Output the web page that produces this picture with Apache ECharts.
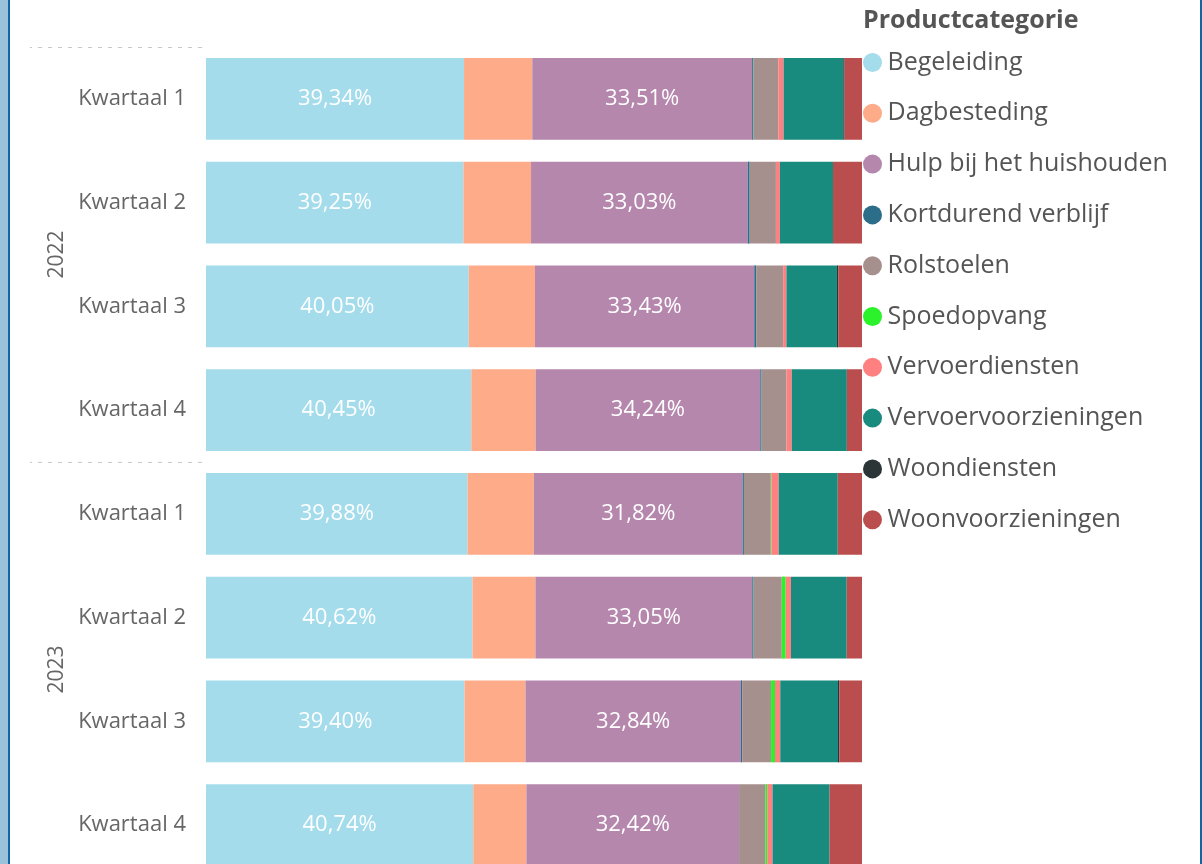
<!DOCTYPE html>
<html>
<head>
<meta charset="utf-8">
<script src="https://cdn.jsdelivr.net/npm/echarts@6/dist/echarts.min.js"></script>
<style>
    html, body { margin: 0; padding: 0; background: #fff; }
    #wrap { position: relative; width: 1202px; height: 864px; overflow: hidden; }
    #main { width: 1202px; height: 864px; }
    .bandL { position: absolute; left: 0; top: 0; width: 8px; height: 864px; background: #9ac2da; }
    .lineL { position: absolute; left: 8px; top: 0; width: 2px; height: 864px; background: #1565a5; }
    .lineR { position: absolute; left: 1200px; top: 0; width: 2px; height: 864px; background: #1565a5; }
</style>
</head>
<body>
<div id="wrap">
    <div id="main"></div>
    <div class="bandL"></div>
    <div class="lineL"></div>
    <div class="lineR"></div>
</div>
<script>
    // quarters (top to bottom) and years
    var quarters = ['Kwartaal 1', 'Kwartaal 2', 'Kwartaal 3', 'Kwartaal 4',
                    'Kwartaal 1', 'Kwartaal 2', 'Kwartaal 3', 'Kwartaal 4'];
    var years = ['2022', '2023'];

    var categories = ['Begeleiding', 'Dagbesteding', 'Hulp bij het huishouden', 'Kortdurend verblijf',
                      'Rolstoelen', 'Spoedopvang', 'Vervoerdiensten', 'Vervoervoorzieningen',
                      'Woondiensten', 'Woonvoorzieningen'];
    var colors = ['#a4dcec', '#fdab89', '#b587ad', '#2c6e8a', '#a6908d',
                  '#2bf22b', '#ff8080', '#188a7e', '#2b3538', '#ba4d4d'];

    // share per quarter, in %
    var begeleiding   = [39.34, 39.25, 40.05, 40.45, 39.88, 40.62, 39.40, 40.74];
    var dagbesteding  = [10.4, 10.3, 10.1, 9.8, 10.1, 9.6, 9.3, 8.1];
    var hulp          = [33.51, 33.03, 33.43, 34.24, 31.82, 33.05, 32.84, 32.42];
    var kortdurend    = [0.2, 0.3, 0.3, 0.2, 0.2, 0.2, 0.2, 0.0];
    var rolstoelen    = [3.8, 4.0, 4.1, 3.8, 4.1, 4.3, 4.4, 4.0];
    var spoedopvang   = [0.0, 0.0, 0.0, 0.0, 0.1, 0.6, 0.6, 0.3];
    var vervoerdienst = [0.8, 0.6, 0.5, 0.8, 1.1, 0.8, 0.8, 0.8];
    var vervoervoorz  = [9.1, 8.1, 7.7, 8.4, 9.0, 8.5, 8.8, 8.7];
    var woondiensten  = [0.2, 0.0, 0.2, 0.0, 0.0, 0.0, 0.2, 0.0];
    var woonvoorz     = [2.65, 4.42, 3.62, 2.31, 3.7, 2.33, 3.46, 4.94];

    var values = [begeleiding, dagbesteding, hulp, kortdurend, rolstoelen,
                  spoedopvang, vervoerdienst, vervoervoorz, woondiensten, woonvoorz];
    var labelled = ['Begeleiding', 'Hulp bij het huishouden'];

    var font = "'Segoe UI', 'Open Sans', sans-serif";

    var chart = echarts.init(document.getElementById('main'));

    var series = categories.map(function (name, i) {
        return {
            name: name,
            type: 'bar',
            stack: 'total',
            barCategoryGap: '21%',
            itemStyle: { color: colors[i] },
            label: {
                show: labelled.indexOf(name) >= 0,
                position: 'inside',
                color: '#ffffff',
                fontFamily: font,
                fontSize: 22,
                formatter: function (p) {
                    return p.value.toFixed(2).replace('.', ',') + '%';
                }
            },
            data: values[i]
        };
    });

    var option = {
        animation: false,
        title: {
            text: 'Productcategorie',
            left: 858,
            top: 3,
            textStyle: { fontFamily: font, fontSize: 25, fontWeight: 'bold', color: '#555555' }
        },
        legend: {
            orient: 'vertical',
            left: 858,
            top: 45,
            icon: 'circle',
            itemWidth: 20,
            itemHeight: 19,
            itemGap: 25.8,
            textStyle: { fontFamily: font, fontSize: 25, color: '#555555', lineHeight: 24 },
            data: categories
        },
        grid: { left: 206, top: 47, width: 656, height: 830, outerBoundsMode: 'none' },
        xAxis: {
            type: 'value',
            min: 0,
            max: 100,
            show: false
        },
        yAxis: [
            {
                type: 'category',
                inverse: true,
                data: quarters,
                axisLine: { show: false },
                axisTick: { show: false },
                axisLabel: { fontFamily: font, fontSize: 22, color: '#666666', margin: 20 }
            },
            {
                type: 'category',
                inverse: true,
                data: years,
                position: 'left',
                offset: 4,
                axisLine: { show: false },
                axisTick: {
                    show: true,
                    length: 172,
                    lineStyle: { color: '#c8c8c8', type: [4, 6], width: 1 }
                },
                axisLabel: {
                    rotate: 90,
                    fontFamily: font,
                    fontSize: 21,
                    color: '#666666',
                    margin: 134
                }
            }
        ],
        series: series
    };

    chart.setOption(option);
    window.addEventListener('resize', chart.resize);
</script>
</body>
</html>
